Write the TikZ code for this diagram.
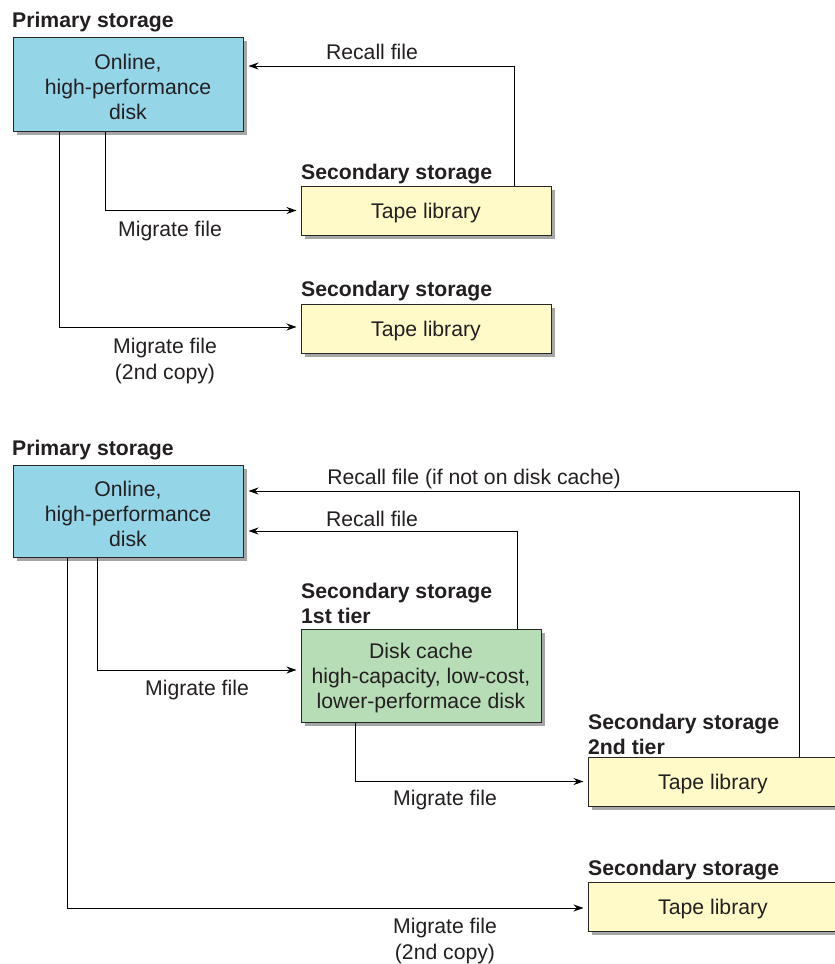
\documentclass[tikz,border=0pt]{standalone}
\usepackage{fontspec}
\setmainfont{Liberation Sans}
\usetikzlibrary{arrows.meta,shadows}
\definecolor{bluebox}{RGB}{148,214,232}
\definecolor{tapebox}{RGB}{255,250,200}
\definecolor{greenbox}{RGB}{182,221,182}
\definecolor{txt}{RGB}{35,31,32}
\begin{document}
\begin{tikzpicture}[x=1pt,y=-1pt,
 box/.style={draw=black!85, line width=1pt, drop shadow={shadow xshift=4pt,shadow yshift=-4pt,fill=black!35,opacity=1}, inner sep=0pt},
 boxtxt/.style={align=center, inner sep=0pt, font=\fontsize{21.2}{25}\selectfont, text=txt, yshift=-2.5pt},
 ttl/.style={anchor=west, inner sep=0pt, font=\fontsize{21.2}{25}\selectfont\bfseries, align=left, text=txt, yshift=-2pt},
 lbl/.style={inner sep=0pt, font=\fontsize{21.2}{26}\selectfont, align=center, text=txt, yshift=-2pt},
 arr/.style={-{Stealth[length=10pt,width=7pt]}, line width=1pt}]
\useasboundingbox[fill=white] (0,0) rectangle (835,964);
% ---------- top part ----------
\node[ttl] (pt1) at (12,20) {Primary storage};
\node[box, fill=bluebox, minimum width=230pt, minimum height=94pt] (p1) at (128,84) {};
\node[boxtxt] (p1t) at (p1.center) {Online,\\high-performance\\disk};
\node[ttl] (st1) at (301,172) {Secondary storage};
\node[box, fill=tapebox, minimum width=250pt, minimum height=49pt] (t1) at (426,210.5) {};
\node[boxtxt] (t1t) at (t1.center) {Tape library};
\node[ttl] (st2) at (301,289) {Secondary storage};
\node[box, fill=tapebox, minimum width=250pt, minimum height=49pt] (t2) at (426,328.5) {};
\node[boxtxt] (t2t) at (t2.center) {Tape library};
\draw[arr] ([xshift=88pt]t1.north) |- ([xshift=5pt,yshift=18pt]p1.east);
\node[lbl] (l1) at (372,50) {Recall file};
\draw[arr] ([xshift=-23pt]p1.south) |- ([xshift=-4pt]t1.west);
\node[lbl] (l2) at (170,229) {Migrate file};
\draw[arr] ([xshift=-69pt]p1.south) |- ([xshift=-4pt,yshift=1.5pt]t2.west);
\node[lbl] (l3) at (165,359) {Migrate file\\(2nd copy)};
% ---------- bottom part ----------
\node[ttl] (pt2) at (12,448) {Primary storage};
\node[box, fill=bluebox, minimum width=230pt, minimum height=92pt] (p2) at (128,511) {};
\node[boxtxt] (p2t) at (p2.center) {Online,\\high-performance\\disk};
\node[ttl] (st3) at (301,601.5) {Secondary storage\\1st tier};
\node[box, fill=greenbox, minimum width=240pt, minimum height=93pt] (g) at (421,675.5) {};
\node[boxtxt] (gt) at (g.center) {Disk cache\\high-capacity, low-cost,\\lower-performace disk};
\node[ttl] (st4) at (588,732.5) {Secondary storage\\2nd tier};
\node[box, fill=tapebox, minimum width=250pt, minimum height=49pt] (t3) at (713,781.5) {};
\node[boxtxt] (t3t) at (t3.center) {Tape library};
\node[ttl] (st5) at (588,868) {Secondary storage};
\node[box, fill=tapebox, minimum width=250pt, minimum height=49pt] (t4) at (713,906.5) {};
\node[boxtxt] (t4t) at (t4.center) {Tape library};
\draw[arr] ([xshift=86pt]t3.north) |- ([xshift=5pt,yshift=20pt]p2.east);
\node[lbl] (l4) at (474,477) {Recall file (if not on disk cache)};
\draw[arr] ([xshift=96pt]g.north) |- ([xshift=5pt,yshift=-20pt]p2.east);
\node[lbl] (l5) at (372,517) {Recall file};
\draw[arr] ([xshift=-31pt]p2.south) |- ([xshift=-4pt,yshift=5.5pt]g.west);
\node[lbl] (l6) at (197,688) {Migrate file};
\draw[arr] ([xshift=-66pt]g.south) |- ([xshift=-4pt]t3.west);
\node[lbl] (l7) at (445,798) {Migrate file};
\draw[arr] ([xshift=-61pt]p2.south) |- ([xshift=-4pt,yshift=-1.5pt]t4.west);
\node[lbl] (l8) at (445,939) {Migrate file\\(2nd copy)};
\end{tikzpicture}
\end{document}
